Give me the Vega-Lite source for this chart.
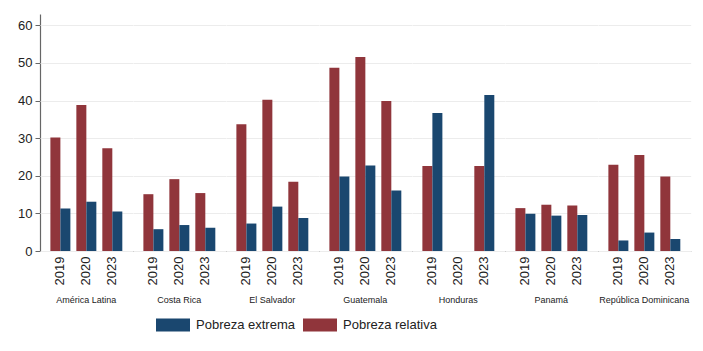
{
  "$schema": "https://vega.github.io/schema/vega-lite/v6.json",
  "padding": {"left": 17, "top": 14, "right": 13, "bottom": 5},
  "background": "white",
  "data": {"values": [
    {"pais": "América Latina", "anio": "2019", "serie": "Pobreza relativa", "valor": 30.2},
    {"pais": "América Latina", "anio": "2019", "serie": "Pobreza extrema", "valor": 11.3},
    {"pais": "América Latina", "anio": "2020", "serie": "Pobreza relativa", "valor": 38.8},
    {"pais": "América Latina", "anio": "2020", "serie": "Pobreza extrema", "valor": 13.1},
    {"pais": "América Latina", "anio": "2023", "serie": "Pobreza relativa", "valor": 27.3},
    {"pais": "América Latina", "anio": "2023", "serie": "Pobreza extrema", "valor": 10.5},
    {"pais": "Costa Rica", "anio": "2019", "serie": "Pobreza relativa", "valor": 15.1},
    {"pais": "Costa Rica", "anio": "2019", "serie": "Pobreza extrema", "valor": 5.8},
    {"pais": "Costa Rica", "anio": "2020", "serie": "Pobreza relativa", "valor": 19.1},
    {"pais": "Costa Rica", "anio": "2020", "serie": "Pobreza extrema", "valor": 6.9},
    {"pais": "Costa Rica", "anio": "2023", "serie": "Pobreza relativa", "valor": 15.4},
    {"pais": "Costa Rica", "anio": "2023", "serie": "Pobreza extrema", "valor": 6.2},
    {"pais": "El Salvador", "anio": "2019", "serie": "Pobreza relativa", "valor": 33.7},
    {"pais": "El Salvador", "anio": "2019", "serie": "Pobreza extrema", "valor": 7.3},
    {"pais": "El Salvador", "anio": "2020", "serie": "Pobreza relativa", "valor": 40.2},
    {"pais": "El Salvador", "anio": "2020", "serie": "Pobreza extrema", "valor": 11.8},
    {"pais": "El Salvador", "anio": "2023", "serie": "Pobreza relativa", "valor": 18.4},
    {"pais": "El Salvador", "anio": "2023", "serie": "Pobreza extrema", "valor": 8.8},
    {"pais": "Guatemala", "anio": "2019", "serie": "Pobreza relativa", "valor": 48.7},
    {"pais": "Guatemala", "anio": "2019", "serie": "Pobreza extrema", "valor": 19.8},
    {"pais": "Guatemala", "anio": "2020", "serie": "Pobreza relativa", "valor": 51.6},
    {"pais": "Guatemala", "anio": "2020", "serie": "Pobreza extrema", "valor": 22.7},
    {"pais": "Guatemala", "anio": "2023", "serie": "Pobreza relativa", "valor": 39.9},
    {"pais": "Guatemala", "anio": "2023", "serie": "Pobreza extrema", "valor": 16.1},
    {"pais": "Honduras", "anio": "2019", "serie": "Pobreza relativa", "valor": 22.6},
    {"pais": "Honduras", "anio": "2019", "serie": "Pobreza extrema", "valor": 36.7},
    {"pais": "Honduras", "anio": "2023", "serie": "Pobreza relativa", "valor": 22.6},
    {"pais": "Honduras", "anio": "2023", "serie": "Pobreza extrema", "valor": 41.5},
    {"pais": "Panamá", "anio": "2019", "serie": "Pobreza relativa", "valor": 11.4},
    {"pais": "Panamá", "anio": "2019", "serie": "Pobreza extrema", "valor": 9.9},
    {"pais": "Panamá", "anio": "2020", "serie": "Pobreza relativa", "valor": 12.3},
    {"pais": "Panamá", "anio": "2020", "serie": "Pobreza extrema", "valor": 9.4},
    {"pais": "Panamá", "anio": "2023", "serie": "Pobreza relativa", "valor": 12.1},
    {"pais": "Panamá", "anio": "2023", "serie": "Pobreza extrema", "valor": 9.6},
    {"pais": "República Dominicana", "anio": "2019", "serie": "Pobreza relativa", "valor": 22.9},
    {"pais": "República Dominicana", "anio": "2019", "serie": "Pobreza extrema", "valor": 2.8},
    {"pais": "República Dominicana", "anio": "2020", "serie": "Pobreza relativa", "valor": 25.5},
    {"pais": "República Dominicana", "anio": "2020", "serie": "Pobreza extrema", "valor": 4.9},
    {"pais": "República Dominicana", "anio": "2023", "serie": "Pobreza relativa", "valor": 19.8},
    {"pais": "República Dominicana", "anio": "2023", "serie": "Pobreza extrema", "valor": 3.2}
  ]},
  "spacing": 0,
  "facet": {
    "column": {
      "field": "pais", "type": "nominal",
      "sort": ["América Latina", "Costa Rica", "El Salvador", "Guatemala", "Honduras", "Panamá", "República Dominicana"],
      "header": {"title": null, "labelOrient": "bottom", "labelFont": "Liberation Sans", "labelFontSize": 9, "labelColor": "#222", "labelPadding": 11}
    }
  },
  "spec": {
    "width": 92.7,
    "height": 237,
    "mark": {"type": "bar"},
    "encoding": {
      "x": {
        "field": "anio", "type": "ordinal",
        "scale": {"domain": ["2019", "2020", "2023"], "paddingInner": 0.23, "paddingOuter": 0.4},
        "axis": {"title": null, "labelAngle": -90, "labelFont": "Liberation Sans", "labelFontSize": 13, "labelColor": "#222", "ticks": false, "labelPadding": 5, "domainColor": "#666", "domainWidth": 1.2}
      },
      "xOffset": {"field": "serie", "type": "nominal", "sort": ["Pobreza relativa", "Pobreza extrema"]},
      "y": {
        "field": "valor", "type": "quantitative",
        "scale": {"domain": [0, 63], "nice": false},
        "axis": {"title": null, "values": [0, 10, 20, 30, 40, 50, 60], "labelFont": "Liberation Sans", "labelFontSize": 13, "labelColor": "#222", "tickSize": 5, "tickColor": "#666", "domainColor": "#666", "domainWidth": 1.2, "gridColor": "#ececec", "labelPadding": 3}
      },
      "color": {
        "field": "serie", "type": "nominal",
        "scale": {"domain": ["Pobreza extrema", "Pobreza relativa"], "range": ["#1a476f", "#90353b"]},
        "legend": {
          "title": null, "orient": "none", "direction": "horizontal", "legendX": 116, "legendY": 294,
          "symbolType": "M-1,-0.38H1V0.38H-1Z", "symbolSize": 1156, "symbolStrokeWidth": 0,
          "labelFont": "Liberation Sans", "labelFontSize": 13, "labelColor": "#222",
          "labelOffset": 6, "columnPadding": 8
        }
      }
    }
  },
  "config": {"view": {"stroke": null}}
}
